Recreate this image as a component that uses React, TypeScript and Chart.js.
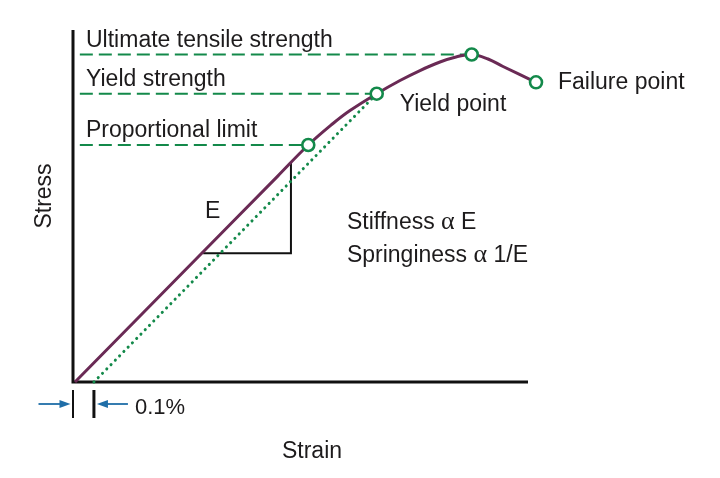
import { useEffect, useRef } from "react";
import { Chart, registerables } from "chart.js";

Chart.register(...registerables);

// ---- data (arbitrary units: strain 0..100, stress 0..100) ----
const curveStrain = [0.44, 25, 45, 51.71, 57.14, 60.88, 66.75, 71.87, 76.26, 80.66, 84.18, 87.63, 91.21, 94.51, 101.76];
const curveStress = [0, 32.25, 58.5, 67.33, 73.44, 77.13, 81.9, 85.65, 88.49, 90.91, 92.33, 93.04, 91.76, 89.63, 85.14];

// key points: proportional limit, yield point, UTS, failure
const keyStrain = [51.71, 66.75, 87.63, 101.76];
const keyStress = [67.33, 81.9, 93.04, 85.14];

// offset line (dotted)
const offsetStrain = [4.6, 66.75];
const offsetStress = [0, 81.9];

// horizontal reference levels (dashed)
const levelNames = ["Ultimate tensile strength", "Yield strength", "Proportional limit"];
const levelStress = [93.04, 81.9, 67.33];
const levelEndStrain = [87.63, 66.75, 51.71];
const levelStartStrain = 1.5;

// modulus triangle
const triStrain = [28.6, 47.9, 47.9];
const triStress = [36.6, 36.6, 62.5];

const pointNames = ["Yield point", "Failure point"];
const offsetLabel = "0.1%";
const xTitle = "Strain";
const yTitle = "Stress";
const eLabel = "E";
const eLabelPos = [29.0, 46.6];
const noteLines = [
  ["Stiffness ", "α", " E"],
  ["Springiness ", "α", " 1/E"],
];
const notePos = [60.2, 43.5, 34.1];

const FONT = '"Liberation Sans", Arial, Helvetica, sans-serif';
const SERIF = '"Liberation Serif", "DejaVu Serif", serif';
const GREEN = "#13894a";
const PURPLE = "#6a2a55";
const BLUE = "#1f6ea8";
const INK = "#1d1b1c";
const FS = 23;

const pts = (xs: number[], ys: number[]) => xs.map((x, i) => ({ x, y: ys[i] }));

const decor = {
  id: "decor",
  beforeDatasetsDraw(chart: any) {
    const ctx = chart.ctx;
    const xs = chart.scales.x;
    const ys = chart.scales.y;
    const x0 = xs.getPixelForValue(0);
    const y0 = ys.getPixelForValue(0);
    ctx.save();
    ctx.strokeStyle = "#111";
    ctx.lineWidth = 3;
    ctx.beginPath();
    ctx.moveTo(x0, ys.getPixelForValue(100));
    ctx.lineTo(x0, y0 + 1.5);
    ctx.moveTo(x0 - 1.5, y0);
    ctx.lineTo(xs.getPixelForValue(100), y0);
    ctx.stroke();
    ctx.restore();
  },
  afterDraw(chart: any) {
    const ctx = chart.ctx;
    const xs = chart.scales.x;
    const ys = chart.scales.y;
    const area = chart.chartArea;
    const px = (v: number) => xs.getPixelForValue(v);
    const py = (v: number) => ys.getPixelForValue(v);
    const x0 = px(0);
    const y0 = py(0);
    ctx.save();
    ctx.fillStyle = INK;
    ctx.font = `${FS}px ${FONT}`;
    ctx.textBaseline = "alphabetic";
    ctx.textAlign = "left";

    // level labels
    levelNames.forEach((name, i) => {
      ctx.fillText(name, x0 + 13, py(levelStress[i]) - 7.5);
    });

    // point labels
    ctx.fillText(pointNames[0], px(keyStrain[1]) + 23, py(keyStress[1]) + 17);
    ctx.fillText(pointNames[1], px(keyStrain[3]) + 22, py(keyStress[3]) + 7);

    // E
    ctx.fillText(eLabel, px(eLabelPos[0]), py(eLabelPos[1]));

    // notes with alpha
    noteLines.forEach((parts, i) => {
      let x = px(notePos[0]);
      const y = py(notePos[i + 1]);
      parts.forEach((p, j) => {
        ctx.font = j === 1 ? `${FS + 3}px ${SERIF}` : `${FS}px ${FONT}`;
        ctx.fillText(p, x, y);
        x += ctx.measureText(p).width;
      });
    });
    ctx.font = `${FS}px ${FONT}`;

    // axis titles
    ctx.textAlign = "center";
    ctx.fillText(xTitle, (area.left + area.right) / 2 + 11.5, area.bottom + 76);
    ctx.save();
    ctx.translate(x0 - 22, (area.top + area.bottom) / 2 - 10);
    ctx.rotate(-Math.PI / 2);
    ctx.fillText(yTitle, 0, 0);
    ctx.restore();

    // offset marker
    const xb = px(offsetStrain[0]);
    const ay = y0 + 22;
    ctx.strokeStyle = "#111";
    ctx.lineWidth = 2;
    ctx.beginPath();
    ctx.moveTo(x0, y0 + 8);
    ctx.lineTo(x0, y0 + 36);
    ctx.stroke();
    ctx.lineWidth = 3;
    ctx.beginPath();
    ctx.moveTo(xb, y0 + 8);
    ctx.lineTo(xb, y0 + 36);
    ctx.stroke();

    ctx.strokeStyle = BLUE;
    ctx.fillStyle = BLUE;
    ctx.lineWidth = 1.8;
    const tip1 = x0 - 2.5;
    ctx.beginPath();
    ctx.moveTo(tip1 - 32, ay);
    ctx.lineTo(tip1 - 8, ay);
    ctx.stroke();
    ctx.beginPath();
    ctx.moveTo(tip1, ay);
    ctx.lineTo(tip1 - 11, ay - 4);
    ctx.lineTo(tip1 - 11, ay + 4);
    ctx.closePath();
    ctx.fill();
    const tip2 = xb + 3;
    ctx.beginPath();
    ctx.moveTo(tip2 + 8, ay);
    ctx.lineTo(tip2 + 31, ay);
    ctx.stroke();
    ctx.beginPath();
    ctx.moveTo(tip2, ay);
    ctx.lineTo(tip2 + 11, ay - 4);
    ctx.lineTo(tip2 + 11, ay + 4);
    ctx.closePath();
    ctx.fill();

    ctx.fillStyle = INK;
    ctx.textAlign = "left";
    ctx.font = `22px ${FONT}`;
    ctx.fillText(offsetLabel, tip2 + 38, ay + 10);
    ctx.restore();
  },
};

export default function App() {
  const ref = useRef<HTMLCanvasElement | null>(null);
  useEffect(() => {
    if (!ref.current) return;
    const levelSets = levelStress.map((s, i) => ({
      data: [
        { x: levelStartStrain, y: s },
        { x: levelEndStrain[i], y: s },
      ],
      borderColor: GREEN,
      borderWidth: 2,
      borderDash: [13, 6],
      pointRadius: 0,
      tension: 0,
      clip: false,
      order: 5,
    }));
    const chart = new Chart(ref.current, {
      type: "line",
      data: {
        datasets: [
          ...levelSets,
          {
            data: pts(triStrain, triStress),
            borderColor: "#111",
            borderWidth: 2,
            pointRadius: 0,
            tension: 0,
            clip: false,
            order: 4,
          } as any,
          {
            data: pts(offsetStrain, offsetStress),
            borderColor: GREEN,
            borderWidth: 3,
            borderDash: [0.1, 6],
            borderCapStyle: "round",
            pointRadius: 0,
            tension: 0,
            clip: false,
            order: 3,
          },
          {
            data: pts(curveStrain, curveStress),
            borderColor: PURPLE,
            borderWidth: 3,
            tension: 0.4,
            pointRadius: 0,
            clip: false,
            order: 2,
          },
          {
            data: pts(keyStrain, keyStress),
            showLine: false,
            pointRadius: 6,
            pointBorderWidth: 2.6,
            pointBorderColor: GREEN,
            pointBackgroundColor: "#ffffff",
            clip: false,
            order: 1,
          },
        ],
      },
      options: {
        animation: false,
        responsive: false,
        events: [],
        layout: { padding: { left: 65, top: 22, right: 184, bottom: 88 } },
        scales: {
          x: { type: "linear", min: 0, max: 100, display: false },
          y: { type: "linear", min: 0, max: 100, display: false },
        },
        plugins: { legend: { display: false }, tooltip: { enabled: false }, title: { display: false } },
      },
      plugins: [decor],
    });
    return () => chart.destroy();
  }, []);
  return (
    <div style={{ width: 704, height: 462 }}>
      <canvas ref={ref} width={704} height={462} style={{ display: "block" }} />
    </div>
  );
}
